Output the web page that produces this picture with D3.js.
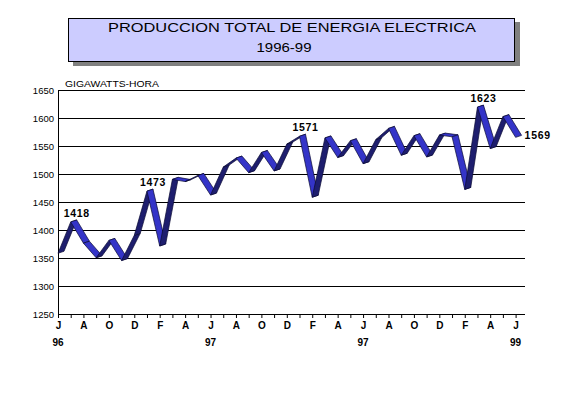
<!DOCTYPE html>
<meta charset="utf-8">
<script src="https://d3js.org/d3.v7.min.js"></script>
<style>
  body { margin: 0; background: #fff; }
  text { font-family: "Liberation Sans", Arial, sans-serif; }
</style>
<div id="chart"></div>
<script>

  // monthly production, June 1996 - June 1999 (GWh)
  var months = ["J","J","A","S","O","N","D","E","F","M","A","M",
                "J","J","A","S","O","N","D","E","F","M","A","M",
                "J","J","A","S","O","N","D","E","F","M","A","M","J"];
  var values = [1362,1418,1380,1354,1385,1349,1394,1473,1375,1494,1490,1501,
                1466,1516,1532,1506,1542,1509,1557,1571,1462,1568,1533,1563,
                1522,1565,1585,1537,1572,1534,1573,1570,1476,1623,1549,1606,1569];
  var yearLabels = ["96","97","97","99"];
  var yearIndex = [0, 12, 24, 36];
  var labelIndex = [1, 7, 19, 33];
  var yTicks = [1250,1300,1350,1400,1450,1500,1550,1600,1650];

  var W = 580, H = 397;
  var plotLeft = 58, plotRight = 525, plotTop = 90, plotBottom = 314;

  var svg = d3.select("#chart").append("svg")
    .attr("width", W).attr("height", H);

  // title box with shadow
  svg.append("rect").attr("x", 73).attr("y", 22).attr("width", 447).attr("height", 44)
    .attr("fill", "#808080");
  svg.append("rect").attr("x", 68.5).attr("y", 18.5).attr("width", 446).attr("height", 43)
    .attr("fill", "#ccccff").attr("stroke", "#000");
  svg.append("text").attr("x", 292).attr("y", 32).attr("text-anchor", "middle")
    .attr("font-size", 13).attr("textLength", 368).attr("lengthAdjust", "spacingAndGlyphs")
    .text("PRODUCCION TOTAL DE ENERGIA ELECTRICA");
  svg.append("text").attr("x", 284).attr("y", 52).attr("text-anchor", "middle")
    .attr("font-size", 13).attr("textLength", 55).attr("lengthAdjust", "spacingAndGlyphs")
    .text("1996-99");

  svg.append("text").attr("x", 65).attr("y", 86.5).attr("font-size", 9)
    .attr("textLength", 94).attr("lengthAdjust", "spacingAndGlyphs")
    .text("GIGAWATTS-HORA");

  var x = d3.scalePoint()
    .domain(d3.range(values.length))
    .range([plotLeft, 515.6]);

  var y = d3.scaleLinear()
    .domain([1250, 1650])
    .range([plotBottom, plotTop]);

  // grid + y axis
  var yAxis = svg.append("g")
    .attr("transform", "translate(" + plotLeft + ",0)")
    .call(d3.axisLeft(y).tickValues(yTicks).tickSize(-(plotRight - plotLeft)).tickPadding(4)
      .tickSizeOuter(0).tickFormat(d3.format("d")));
  yAxis.select(".domain").attr("stroke", "#000");
  yAxis.selectAll(".tick line").attr("stroke", "#000");
  yAxis.selectAll("text").attr("font-size", 9.5).attr("font-family", "Liberation Sans, Arial")
    .attr("fill", "#000");

  // x axis
  var xAxis = svg.append("g")
    .attr("transform", "translate(0," + plotBottom + ")")
    .call(d3.axisBottom(x).tickSizeInner(4).tickSizeOuter(0).tickPadding(4)
      .tickFormat(function(d) { return d % 2 == 0 ? months[d] : ""; }));
  xAxis.select(".domain").attr("d", "M" + plotLeft + ",0.5H" + plotRight).attr("stroke", "#000");
  xAxis.selectAll(".tick line").attr("stroke", "#000");
  xAxis.selectAll("text").attr("font-size", 10).attr("font-weight", "bold")
    .attr("font-family", "Liberation Sans, Arial").attr("fill", "#000");

  svg.append("g").selectAll("text")
    .data(yearLabels)
    .enter().append("text")
      .attr("x", function(d, i) { return x(yearIndex[i]); })
      .attr("y", 346)
      .attr("text-anchor", "middle")
      .attr("font-size", 10).attr("font-weight", "bold")
      .text(function(d) { return d; });

  // 3D ribbon: front edge at the tick, back edge shifted right/up
  var dx = 6, dy = -2;
  var segs = d3.range(values.length - 1).map(function(i) {
    return {
      x0: x(i), y0: y(values[i]) - dy,
      x1: x(i + 1), y1: y(values[i + 1]) - dy
    };
  });

  svg.append("g").selectAll("path")
    .data(segs)
    .enter().append("path")
      .attr("d", function(s) {
        return "M" + s.x0 + "," + s.y0 + "L" + s.x1 + "," + s.y1 +
               "L" + (s.x1 + dx) + "," + (s.y1 + dy) + "L" + (s.x0 + dx) + "," + (s.y0 + dy) + "Z";
      })
      .attr("fill", function(s) {
        var cross = (s.x1 - s.x0) * dy - (s.y1 - s.y0) * dx;
        return cross > 0 ? "#1e1e6e" : "#3434c8";
      })
      .attr("stroke", "#0a0a33")
      .attr("stroke-width", 0.7)
      .attr("stroke-linejoin", "round");

  // value labels
  svg.append("g").selectAll("text")
    .data(labelIndex)
    .enter().append("text")
      .attr("x", function(i) { return x(i) + dx; })
      .attr("y", function(i) { return y(values[i]) - 3; })
      .attr("text-anchor", "middle")
      .attr("font-size", 10.5).attr("font-weight", "bold").attr("letter-spacing", 0.7)
      .text(function(i) { return values[i]; });

  var last = values.length - 1;
  svg.append("text")
    .attr("x", x(last) + dx + 3)
    .attr("y", y(values[last]) + 4)
    .attr("font-size", 10.5).attr("font-weight", "bold").attr("letter-spacing", 0.7)
    .text(values[last]);

</script>
